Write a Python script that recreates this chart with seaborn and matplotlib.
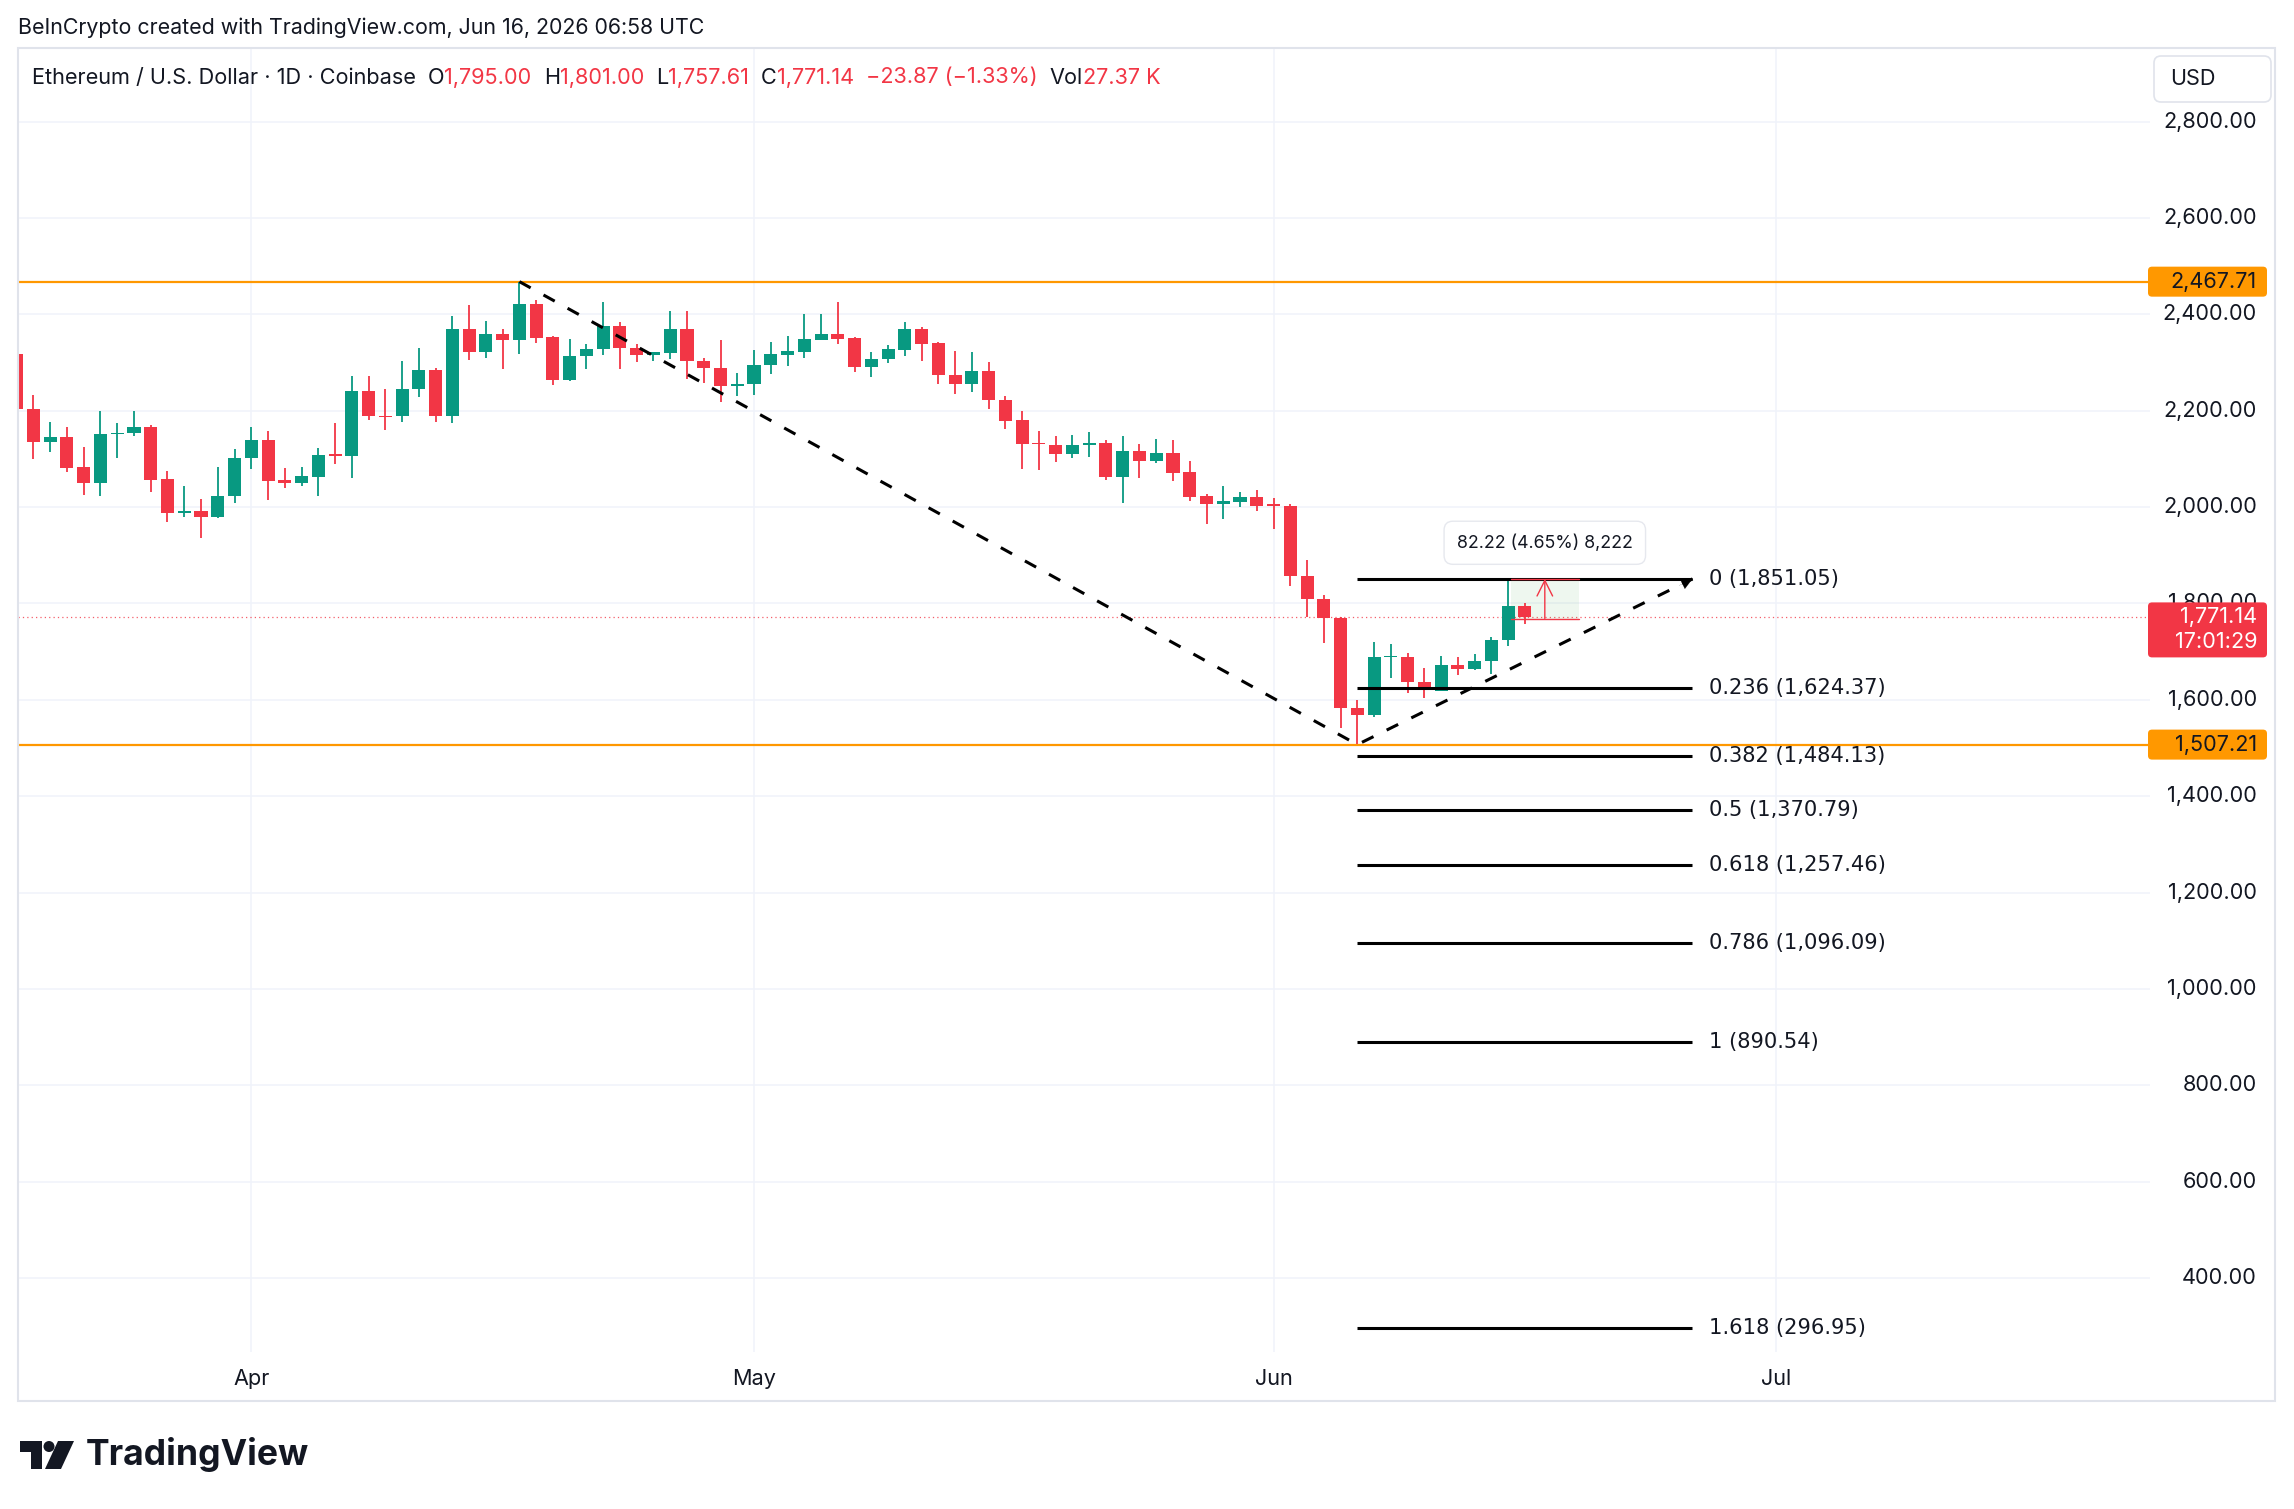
import numpy as np
import pandas as pd
import matplotlib
matplotlib.use("Agg")
import matplotlib.pyplot as plt
import matplotlib.transforms as mtransforms
from matplotlib.patches import FancyBboxPatch, Polygon, Circle, Rectangle
import seaborn as sns

# daily ETH / USD candles, 18 Mar -> 16 Jun 2026
first_day = "2026-03-18"
opens = [2318, 2203, 2136, 2146, 2083, 2051, 2151, 2153, 2167, 2058,
         1988, 1992, 1980, 2023, 2101, 2140, 2056, 2051, 2063, 2109,
         2105, 2240, 2189, 2188, 2244, 2285, 2190, 2370, 2322, 2360,
         2347, 2421, 2352, 2263, 2313, 2328, 2375, 2331, 2315, 2319,
         2370, 2304, 2289, 2251, 2255, 2295, 2315, 2322, 2347, 2360,
         2350, 2290, 2307, 2326, 2370, 2340, 2274, 2256, 2283, 2223,
         2181, 2131, 2128, 2111, 2128, 2132, 2063, 2116, 2096, 2112,
         2072, 2022, 2007, 2010, 2020, 2004, 2003, 1857, 1810, 1769,
         1583, 1569, 1689, 1690, 1638, 1618, 1672, 1664, 1681, 1724,
         1795.00]
highs = [2330, 2233, 2177, 2167, 2125, 2199, 2175, 2200, 2170, 2075,
         2044, 2017, 2083, 2121, 2167, 2158, 2082, 2083, 2123, 2175,
         2273, 2271, 2245, 2303, 2331, 2289, 2396, 2419, 2387, 2370,
         2467, 2429, 2356, 2348, 2339, 2425, 2383, 2339, 2321, 2406,
         2406, 2310, 2347, 2278, 2326, 2342, 2356, 2400, 2400, 2425,
         2352, 2321, 2337, 2383, 2374, 2342, 2323, 2321, 2300, 2230,
         2199, 2158, 2147, 2149, 2156, 2140, 2147, 2131, 2141, 2139,
         2095, 2028, 2043, 2031, 2035, 2018, 2006, 1891, 1818, 1772,
         1600, 1721, 1715, 1697, 1667, 1692, 1690, 1696, 1730, 1851,
         1801.00]
lows = [2195, 2099, 2115, 2072, 2026, 2022, 2101, 2147, 2032, 1969,
        1980, 1936, 1978, 2009, 2080, 2015, 2040, 2044, 2022, 2089,
        2060, 2181, 2160, 2176, 2229, 2176, 2174, 2305, 2309, 2286,
        2317, 2340, 2253, 2262, 2286, 2316, 2286, 2301, 2303, 2307,
        2265, 2258, 2219, 2230, 2233, 2276, 2292, 2309, 2347, 2338,
        2280, 2269, 2299, 2313, 2303, 2255, 2234, 2238, 2203, 2161,
        2079, 2076, 2094, 2102, 2104, 2056, 2008, 2060, 2092, 2054,
        2012, 1965, 1975, 2000, 1992, 1954, 1837, 1771, 1717, 1542,
        1508, 1564, 1645, 1615, 1604, 1618, 1651, 1663, 1654, 1711,
        1757.61]
closes = [2203, 2136, 2146, 2082, 2051, 2151, 2153, 2167, 2057, 1988,
          1992, 1980, 2023, 2102, 2140, 2055, 2051, 2064, 2108, 2107,
          2240, 2188, 2187, 2246, 2285, 2190, 2370, 2322, 2360, 2347,
          2421, 2351, 2264, 2314, 2328, 2375, 2330, 2315, 2321, 2370,
          2303, 2288, 2251, 2256, 2295, 2317, 2323, 2348, 2360, 2349,
          2290, 2308, 2327, 2370, 2338, 2274, 2256, 2283, 2222, 2178,
          2130, 2130, 2111, 2128, 2133, 2063, 2116, 2096, 2112, 2071,
          2021, 2006, 2012, 2020, 2002, 2003, 1856, 1810, 1769, 1583,
          1569, 1690, 1691, 1638, 1620, 1673, 1664, 1681, 1725, 1795,
          1771.14]

price_ticks = [400, 600, 800, 1000, 1200, 1400, 1600, 1800, 2000, 2200, 2400, 2600, 2800]
month_ticks = ["2026-04-01", "2026-05-01", "2026-06-01", "2026-07-01"]
month_labels = ["Apr", "May", "Jun", "Jul"]

resistance = 2467.71
support = 1507.21
last_price = 1771.14
countdown = "17:01:29"

trend_dates = ["2026-04-17", "2026-06-06", "2026-06-26"]
trend_prices = [2467.71, 1507.21, 1851.05]

fib_ratios = ["0", "0.236", "0.382", "0.5", "0.618", "0.786", "1", "1.618"]
fib_prices = [1851.05, 1624.37, 1484.13, 1370.79, 1257.46, 1096.09, 890.54, 296.95]
fib_from, fib_to = "2026-06-06", "2026-06-26"

range_from, range_to = "2026-06-15 04:00", "2026-06-19 05:00"
range_top = 1851.05
range_move = 82.22
range_label = "82.22 (4.65%) 8,222"

header = "BeInCrypto created with TradingView.com, Jun 16, 2026 06:58 UTC"
legend_parts = [("Ethereum / U.S. Dollar · 1D · Coinbase", "ink"), ("O", "ink"), ("1,795.00", "red"),
                ("H", "ink"), ("1,801.00", "red"), ("L", "ink"), ("1,757.61", "red"),
                ("C", "ink"), ("1,771.14", "red"), ("−23.87 (−1.33%)", "red"),
                ("Vol", "ink"), ("27.37 K", "red")]

W, H = 2294, 1509
GREEN = "#089981"
RED = "#F23645"
ORANGE = "#FF9800"
INK = "#131722"
GRID = "#F0F3FA"
AXIS_FS = 15.6

sns.set_theme(style="white")
plt.rcParams["font.family"] = ["Inter", "DejaVu Sans"]

t0 = pd.Timestamp(first_day)


def day(s):
    return (pd.Timestamp(s) - t0) / pd.Timedelta(days=1)


df = pd.DataFrame({"open": opens, "high": highs, "low": lows, "close": closes})
df["day"] = np.arange(len(df))
df["up"] = df["close"] >= df["open"]
df["color"] = np.where(df["up"], GREEN, RED)
df["body_lo"] = df[["open", "close"]].min(axis=1)
df["body_h"] = (df["close"] - df["open"]).abs().clip(lower=2.5)

fig = plt.figure(figsize=(W / 100, H / 100), dpi=100)
fig.patch.set_facecolor("white")
ax = fig.add_axes([17.5 / W, 1 - 1352 / H, (2150 - 17.5) / W, (1352 - 48) / H])
ax.set_facecolor("white")
ax.set_xlim(0.05, 127.3)
ax.set_ylim(247, 2952.5)

# pixel coords with y pointing down
px = mtransforms.Affine2D().scale(1, -1).translate(0, H)


def ypx(p):
    return H - ax.transData.transform((0, p))[1]


# grid + axes
month_days = [day(m) for m in month_ticks]
ax.set_xticks(month_days, labels=month_labels)
ax.yaxis.tick_right()
ax.set_yticks(price_ticks, labels=[f"{p:,.2f}" for p in price_ticks])
ax.grid(True, color=GRID, lw=1.1, zorder=0)
ax.tick_params(axis="y", length=0, pad=77, labelsize=AXIS_FS, labelcolor=INK)
ax.tick_params(axis="x", length=0, pad=12, labelsize=AXIS_FS, labelcolor=INK)
for lbl in ax.get_yticklabels():
    lbl.set_horizontalalignment("right")
    lbl.set_verticalalignment("center")
for s in ax.spines.values():
    s.set_visible(False)

# candles
ax.vlines(df["day"], df["low"], df["high"], colors=df["color"], lw=1.3, zorder=3)
ax.bar(df["day"], df["body_h"], bottom=df["body_lo"], width=0.78,
       color=df["color"], linewidth=0, zorder=4)

# support / resistance
ax.axhline(resistance, color=ORANGE, lw=1.6, zorder=2)
ax.axhline(support, color=ORANGE, lw=1.6, zorder=2)
ax.axhline(last_price, color=RED, lw=0.9, ls=(0, (1, 2.5)), alpha=0.8, zorder=2)

# fib levels
f0, f1 = day(fib_from), day(fib_to)
for r, p in zip(fib_ratios, fib_prices):
    ax.plot([f0, f1], [p, p], color="black", lw=2.2, solid_capstyle="butt", zorder=5)
    ax.text(f1 + 1.0, p, f"{r} ({p:,.2f})", va="center", ha="left", fontsize=15.1,
            family=["DejaVu Sans"], color=INK, zorder=6)

# dashed swing path
trend_days = [day(d) for d in trend_dates]
sns.lineplot(x=trend_days, y=trend_prices, ax=ax, color="black", lw=2.2,
             linestyle=(0, (4.2, 4.8)), zorder=6)
tx, ty = trend_days[-1], trend_prices[-1]
ax.annotate("", xy=(tx, ty), xytext=(tx - 0.8, ty - 0.8 * (ty - trend_prices[1]) / (tx - trend_days[1])),
            arrowprops=dict(arrowstyle="-|>", color="black", lw=0.1, mutation_scale=20,
                            shrinkA=0, shrinkB=0), zorder=7)

# price range measurement
r0, r1 = day(range_from), day(range_to)
rb = range_top - range_move
ax.fill_between([r0, r1], rb, range_top, color="#4CAF50", alpha=0.09, lw=0, zorder=2)
ax.plot([r0, r1], [rb, rb], color=RED, lw=1.0, zorder=5)
ax.plot([r0, r1], [range_top, range_top], color=RED, lw=1.0, zorder=5)
rm = (r0 + r1) / 2
ax.annotate("", xy=(rm, range_top), xytext=(rm, rb),
            arrowprops=dict(arrowstyle="->", color=RED, lw=1.0, mutation_scale=28,
                            shrinkA=0, shrinkB=0), zorder=6)
ax.annotate(range_label, xy=(rm, range_top), xytext=(0, 26), textcoords="offset points",
            ha="center", va="center", fontsize=12.8, color=INK, zorder=8,
            bbox=dict(boxstyle="round,pad=0.72,rounding_size=0.5", fc="white", ec="#E6E8EE", lw=1))


# right-hand price tags
def tag(p, fc, lines, tc):
    yc = ypx(p)
    h = 30 if len(lines) == 1 else 55
    top = yc - 15
    fig.add_artist(FancyBboxPatch((2148, top), 119, h, boxstyle="round,pad=0,rounding_size=4",
                                  fc=fc, ec="none", transform=px, zorder=5))
    for i, s in enumerate(lines):
        fig.add_artist(plt.Text(2257, top + 15 + i * 25, s, ha="right", va="center",
                                fontsize=AXIS_FS, color=tc, transform=px, zorder=6))


tag(resistance, ORANGE, [f"{resistance:,.2f}"], INK)
tag(support, ORANGE, [f"{support:,.2f}"], INK)
tag(last_price, RED, [f"{last_price:,.2f}", countdown], "white")

# USD box
fig.add_artist(FancyBboxPatch((2154, 56), 117, 46, boxstyle="round,pad=0,rounding_size=7",
                              fc="white", ec="#E0E3EB", lw=1.2, transform=px, zorder=5))
fig.add_artist(plt.Text(2170, 79, "USD", ha="left", va="center", fontsize=AXIS_FS,
                        color=INK, transform=px, zorder=6))

# outer frame
fig.add_artist(Rectangle((17.5, 48), 2257.5, 1352.5, fill=False, ec="#E0E3EB", lw=1.5,
                         transform=px, zorder=1))

# header + legend line
fig.add_artist(plt.Text(18, 28, header, ha="left", va="center", fontsize=15.4,
                        color=INK, transform=px))
renderer = fig.canvas.get_renderer()
x = 32
for i, (s, c) in enumerate(legend_parts):
    if i > 0 and c == "ink" or s.startswith("−"):
        x += 12
    t = fig.add_artist(plt.Text(x, 77.5, s, ha="left", va="center", fontsize=15.6,
                                color=INK if c == "ink" else RED, transform=px, zorder=6))
    x += t.get_window_extent(renderer).width

# TradingView logo
fig.add_artist(Polygon([(20, 1441), (42, 1441), (42, 1469), (31, 1469), (31, 1452), (20, 1452)],
                       closed=True, fc=INK, ec="none", transform=px))
fig.add_artist(Circle((49, 1446.5), 5.5, fc=INK, ec="none", transform=px))
fig.add_artist(Polygon([(58, 1441), (74, 1441), (61, 1469), (45, 1469)],
                       closed=True, fc=INK, ec="none", transform=px))
fig.add_artist(plt.Text(86, 1455, "TradingView", ha="left", va="center", fontsize=25.6,
                        fontweight="bold", color=INK, transform=px))

fig.savefig("out.png", dpi=100, facecolor="white")
